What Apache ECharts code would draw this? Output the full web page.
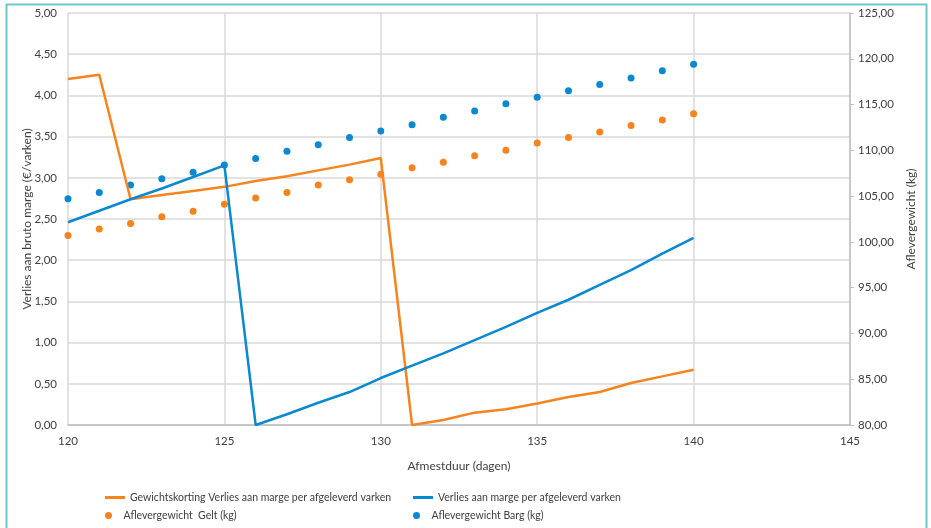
<!DOCTYPE html>
<html>
<head>
<meta charset="utf-8">
<script src="https://cdn.jsdelivr.net/npm/echarts@6/dist/echarts.min.js"></script>
<style>html,body{margin:0;padding:0;background:#fff;}#c{width:931px;height:528px;}</style>
</head>
<body>
<div id="c"></div>
<script>
const days = [120,121,122,123,124,125,126,127,128,129,130,131,132,133,134,135,136,137,138,139,140];
const korting = [4.20,4.25,2.74,2.79,2.84,2.89,2.96,3.02,3.09,3.16,3.24,0.00,0.06,0.15,0.19,0.26,0.34,0.40,0.51,0.59,0.67];
const verlies = [2.46,2.60,2.74,2.87,3.01,3.15,0.00,0.13,0.27,0.40,0.57,0.72,0.87,1.03,1.19,1.36,1.52,1.70,1.88,2.08,2.27];
const gelt = [100.7,101.4,102.0,102.75,103.35,104.1,104.8,105.4,106.2,106.8,107.4,108.1,108.7,109.4,110.0,110.8,111.4,112.0,112.7,113.3,114.0];
const barg = [104.7,105.4,106.2,106.9,107.6,108.4,109.1,109.9,110.6,111.4,112.1,112.8,113.6,114.3,115.1,115.8,116.5,117.2,117.9,118.7,119.4];
const seriesNames = ['Gewichtskorting Verlies aan marge per afgeleverd varken','Verlies aan marge per afgeleverd varken','Aflevergewicht  Gelt (kg)','Aflevergewicht Barg (kg)'];
const ORANGE = '#F5841F', BLUE = '#0A88D0';
const FONT = 'Lato';
const pair = (xs, ys) => xs.map((x,i)=>[x, ys[i]]);
const fmt = v => v.toFixed(2).replace('.', ',');
const chart = echarts.init(document.getElementById('c'));
const legendBase = {orient:'horizontal', itemGap:10, textStyle:{color:'#404040', fontFamily:FONT, fontSize:10.5}, selectedMode:false};
const COL1 = 100, COL2 = 408;
chart.setOption({
  animation:false,
  backgroundColor:'#fff',
  textStyle:{fontFamily:FONT},
  graphic:[{type:'rect', shape:{x:6.5,y:4.5,width:920,height:600}, style:{fill:'none', stroke:'#6CC8CC', lineWidth:2}, silent:true, z:-1}],
  grid:{left:68, right:81, top:13, bottom:103},
  xAxis:{type:'value', min:120, max:145, interval:5,
    name:'Afmestduur (dagen)', nameLocation:'middle', nameGap:35,
    nameTextStyle:{color:'#404040', fontSize:12, fontFamily:FONT},
    axisLine:{show:true, lineStyle:{color:'#bfbfbf', width:1.5}}, axisTick:{show:false},
    axisLabel:{color:'#404040', fontSize:11.5, margin:10, fontFamily:FONT},
    splitLine:{show:true, lineStyle:{color:'#d9d9d9', width:1.5}}},
  yAxis:[
    {type:'value', min:0, max:5, interval:0.5, position:'left',
     name:'Verlies aan bruto marge (€/varken)', nameLocation:'middle', nameGap:35, nameRotate:90, nameMoveOverlap:false,
     nameTextStyle:{color:'#404040', fontSize:12, fontFamily:FONT},
     axisLine:{show:false}, axisTick:{show:false},
     axisLabel:{color:'#404040', fontSize:11.5, formatter:fmt, margin:11, fontFamily:FONT},
     splitLine:{show:true, lineStyle:{color:'#d9d9d9', width:1.5}}},
    {type:'value', min:80, max:125, interval:5, position:'right',
     name:'Aflevergewicht (kg)', nameLocation:'middle', nameGap:52, nameRotate:90,
     nameTextStyle:{color:'#404040', fontSize:12, fontFamily:FONT},
     axisLine:{show:true, lineStyle:{color:'#bfbfbf', width:1.5}},
     axisTick:{show:true, length:4, lineStyle:{color:'#bfbfbf'}},
     axisLabel:{color:'#404040', fontSize:11.5, formatter:fmt, margin:8, fontFamily:FONT},
     splitLine:{show:false}}
  ],
  legend:[
    Object.assign({}, legendBase, {left:COL1, top:487, itemWidth:20, itemHeight:3, data:[{name:seriesNames[0], icon:'rect'}]}),
    Object.assign({}, legendBase, {left:COL2, top:487, itemWidth:20, itemHeight:3, data:[{name:seriesNames[1], icon:'rect'}]}),
    Object.assign({}, legendBase, {left:COL1, top:505, itemWidth:20, itemHeight:7, data:[{name:seriesNames[2], icon:'circle'}]}),
    Object.assign({}, legendBase, {left:COL2, top:505, itemWidth:20, itemHeight:7, data:[{name:seriesNames[3], icon:'circle'}]})
  ],
  series:[
    {name:seriesNames[0], type:'line', yAxisIndex:0, data:pair(days, korting), showSymbol:false, symbol:'none', lineStyle:{color:ORANGE, width:2.5}, itemStyle:{color:ORANGE}, z:3},
    {name:seriesNames[1], type:'line', yAxisIndex:0, data:pair(days, verlies), showSymbol:false, symbol:'none', lineStyle:{color:BLUE, width:2.5}, itemStyle:{color:BLUE}, z:3},
    {name:seriesNames[2], type:'scatter', yAxisIndex:1, data:pair(days, gelt), symbolSize:7, itemStyle:{color:ORANGE, opacity:1}, z:2},
    {name:seriesNames[3], type:'scatter', yAxisIndex:1, data:pair(days, barg), symbolSize:7, itemStyle:{color:BLUE, opacity:1}, z:2}
  ]
});
</script>
</body>
</html>
